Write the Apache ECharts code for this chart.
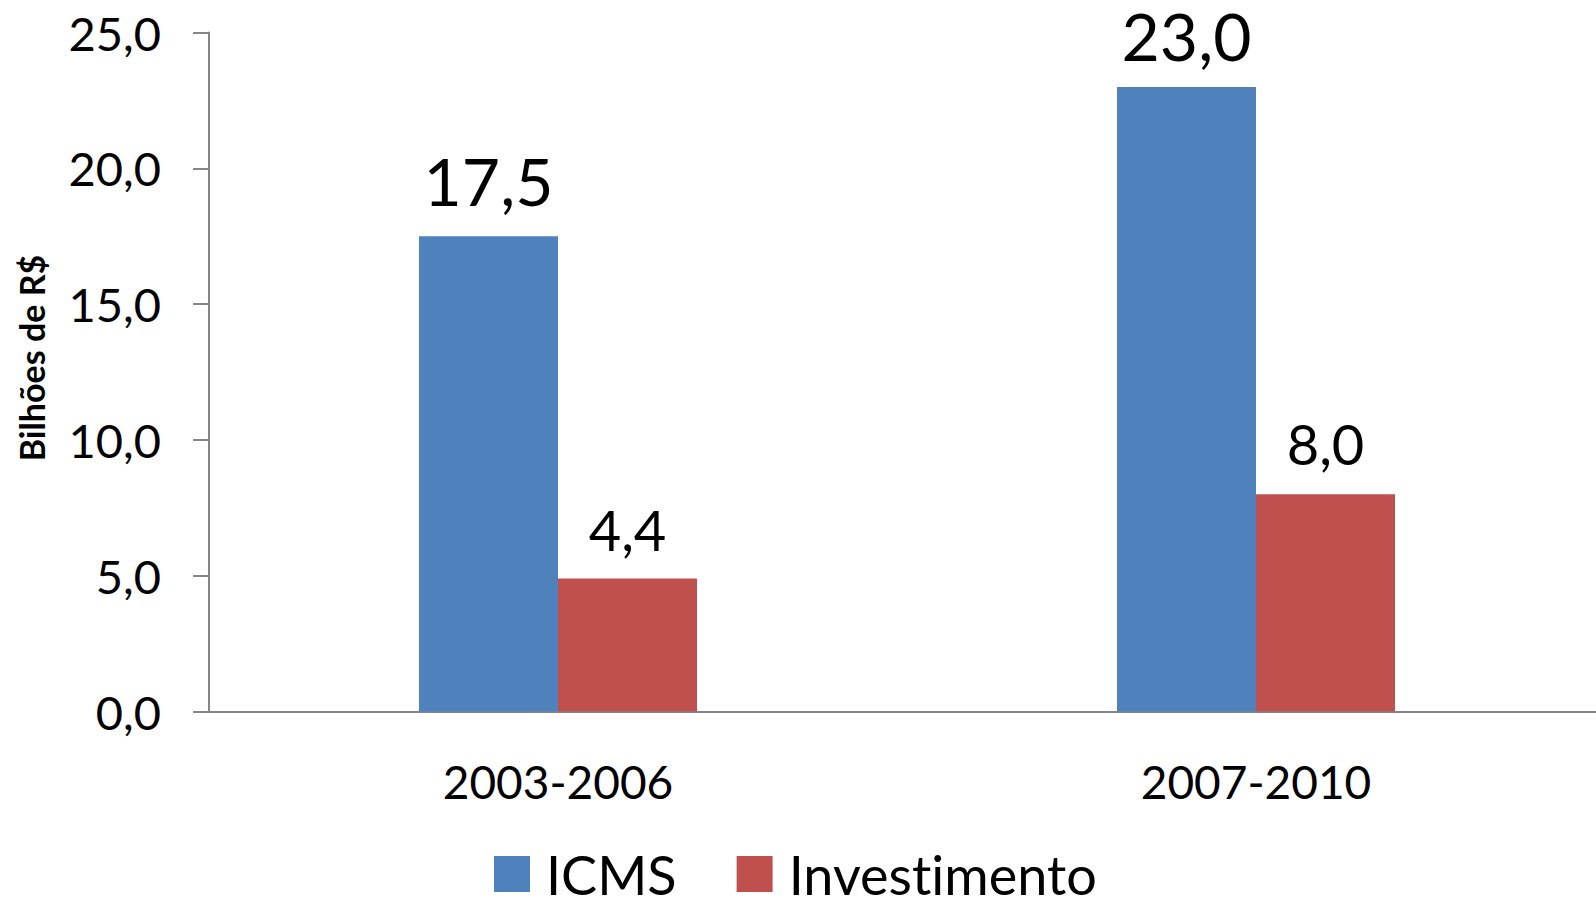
<!DOCTYPE html>
<html>
<head>
<meta charset="utf-8">
<title>ICMS x Investimento</title>
<script src="https://cdn.jsdelivr.net/npm/echarts@6/dist/echarts.min.js"></script>
<style>
  html, body { margin: 0; padding: 0; background: #fff; }
  #chart { width: 1596px; height: 898px; }
  #chart text { font-variant-ligatures: none; }
</style>
</head>
<body>
<div id="chart"></div>
<script>
  // dados
  var periodos = ['2003-2006', '2007-2010'];
  var icms = [17.5, 23.0];
  var investimento = [4.9, 8.0];
  var icmsRotulos = ['17,5', '23,0'];
  var investRotulos = ['4,4', '8,0'];

  // afastamento de cada rótulo acima da barra
  var icmsDist = [31, 26];
  var investDist = [21, 23];

  var fonte = 'Lato';
  var chart = echarts.init(document.getElementById('chart'), null, { renderer: 'svg' });

  function comRotulo(valores, dist) {
    return valores.map(function (v, i) {
      return { value: v, label: { distance: dist[i] } };
    });
  }

  var option = {
    backgroundColor: '#ffffff',
    animation: false,
    textStyle: { fontFamily: fonte, color: '#000' },
    grid: {
      left: 209, width: 1396, top: 32.6, bottom: 186.5,
      containLabel: false, outerBoundsMode: 'none'
    },
    legend: {
      data: ['ICMS', 'Investimento'],
      left: 489,
      top: 842,
      itemWidth: 36,
      itemHeight: 36,
      itemGap: 60,
      icon: 'rect',
      selectedMode: false,
      textStyle: { fontFamily: fonte, fontSize: 54, color: '#000', lineHeight: 24, padding: [20, 0, 0, 11] }
    },
    xAxis: {
      type: 'category',
      data: periodos,
      axisLine: { lineStyle: { color: '#868686', width: 2 } },
      axisTick: { show: false },
      axisLabel: { fontFamily: fonte, fontSize: 46, color: '#000', margin: 47 }
    },
    yAxis: {
      type: 'value',
      min: 0,
      max: 25,
      interval: 5,
      name: 'Bilhões de R$',
      nameLocation: 'middle',
      nameGap: 161,
      nameTextStyle: { fontFamily: fonte, fontWeight: 'bold', fontSize: 34, color: '#000', padding: [0, 0, 0, 28] },
      axisLine: { show: true, lineStyle: { color: '#868686', width: 2 } },
      axisTick: { show: true, length: 16, lineStyle: { color: '#868686', width: 2 } },
      splitLine: { show: false },
      axisLabel: {
        fontFamily: fonte, fontSize: 47, color: '#000', margin: 48,
        formatter: function (v) { return v.toFixed(1).replace('.', ','); }
      }
    },
    series: [
      {
        name: 'ICMS',
        type: 'bar',
        barWidth: 139,
        barGap: '0%',
        itemStyle: { color: '#4F81BD' },
        label: {
          show: true, position: 'top',
          fontFamily: fonte, fontSize: 66, lineHeight: 50, color: '#000',
          formatter: function (p) { return icmsRotulos[p.dataIndex]; }
        },
        data: comRotulo(icms, icmsDist)
      },
      {
        name: 'Investimento',
        type: 'bar',
        barWidth: 139,
        barGap: '0%',
        itemStyle: { color: '#C0504D' },
        label: {
          show: true, position: 'top',
          fontFamily: fonte, fontSize: 56, color: '#000',
          formatter: function (p) { return investRotulos[p.dataIndex]; }
        },
        data: comRotulo(investimento, investDist)
      }
    ]
  };

  chart.setOption(option);
</script>
</body>
</html>
